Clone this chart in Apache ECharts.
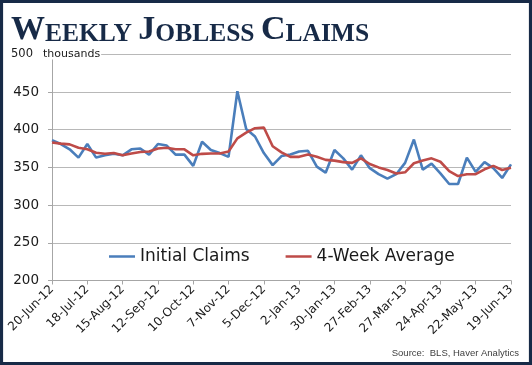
<!DOCTYPE html>
<html>
<head>
<meta charset="utf-8">
<script src="https://cdn.jsdelivr.net/npm/echarts@6/dist/echarts.min.js"></script>
<style>
  html, body { margin: 0; padding: 0; background: #fff; }
  #chart { width: 532px; height: 365px; }
</style>
</head>
<body>
<div id="chart"></div>
<script>
const categories = [
  '20-Jun-12','27-Jun-12','4-Jul-12','11-Jul-12','18-Jul-12','25-Jul-12','1-Aug-12','8-Aug-12',
  '15-Aug-12','22-Aug-12','29-Aug-12','5-Sep-12','12-Sep-12','19-Sep-12','26-Sep-12','3-Oct-12',
  '10-Oct-12','17-Oct-12','24-Oct-12','31-Oct-12','7-Nov-12','14-Nov-12','21-Nov-12','28-Nov-12',
  '5-Dec-12','12-Dec-12','19-Dec-12','26-Dec-12','2-Jan-13','9-Jan-13','16-Jan-13','23-Jan-13',
  '30-Jan-13','6-Feb-13','13-Feb-13','20-Feb-13','27-Feb-13','6-Mar-13','13-Mar-13','20-Mar-13',
  '27-Mar-13','3-Apr-13','10-Apr-13','17-Apr-13','24-Apr-13','1-May-13','8-May-13','15-May-13',
  '22-May-13','29-May-13','5-Jun-13','12-Jun-13','19-Jun-13'
];
const initialClaims = [
  386, 381, 374, 363, 381, 363, 366, 368, 366, 374, 375, 367, 381, 379, 367, 367,
  352, 384, 373, 369, 364, 451, 401, 391, 369, 353, 365, 367, 371, 372, 351, 343,
  373, 362, 347, 366, 349, 341, 335, 341, 356, 387, 347, 355, 342, 328, 328, 363,
  344, 357, 349, 336, 354
];
const fourWeekAverage = [
  383, 381.5, 380.5, 376, 374, 369.5, 368, 369, 366, 368.5, 370.5, 371, 375, 376, 374, 374,
  366, 368, 368.5, 368.5, 371, 388.5, 396, 402, 403, 378, 370, 364, 364, 367, 364, 360,
  359, 357, 356, 362, 354.5, 350, 346.5, 342, 343.5, 355.5, 359, 362, 357.5, 345, 338.5, 341,
  341, 347.5, 352, 346.5, 349.5
];
const seriesNames = ['Initial Claims', '4-Week Average'];
const yTicks = { min: 200, max: 500, step: 50 };

const navy = '#172a47';
const sans = 'DejaVu Sans';

const chart = echarts.init(document.getElementById('chart'));
chart.setOption({
  animation: false,
  backgroundColor: '#ffffff',
  title: {
    text: '{b|W}{s|EEKLY }{b|J}{s|OBLESS }{b|C}{s|LAIMS}',
    left: 11,
    top: 13.5,
    padding: 0,
    textStyle: {
      rich: {
        b: { fontFamily: 'Liberation Serif', fontWeight: 'bold', fontSize: 34, color: navy, verticalAlign: 'bottom' },
        s: { fontFamily: 'Liberation Serif', fontWeight: 'bold', fontSize: 25.5, color: navy, verticalAlign: 'bottom' }
      }
    }
  },
  grid: { left: 52, right: 21, top: 54.3, bottom: 84.5, containLabel: false },
  legend: {
    data: seriesNames,
    left: 109,
    top: 248,
    padding: 0,
    icon: 'rect',
    itemWidth: 26,
    itemHeight: 2.5,
    itemGap: 36,
    textStyle: { fontFamily: sans, fontSize: 17, color: '#1a1a1a' }
  },
  xAxis: {
    type: 'category',
    data: categories,
    boundaryGap: false,
    axisLine: { lineStyle: { color: '#a6a6a6', width: 1 } },
    axisTick: { show: true, interval: 3, length: 4, lineStyle: { color: '#a6a6a6' } },
    axisLabel: {
      interval: 3,
      rotate: 45,
      margin: 7,
      fontFamily: sans,
      fontSize: 12,
      color: '#1a1a1a'
    },
    splitLine: { show: false }
  },
  yAxis: {
    type: 'value',
    min: yTicks.min,
    max: yTicks.max,
    interval: yTicks.step,
    axisLine: { show: true, lineStyle: { color: '#a6a6a6', width: 1 } },
    axisTick: { show: true, length: 4, lineStyle: { color: '#a6a6a6' } },
    axisLabel: {
      margin: 13,
      fontFamily: sans,
      fontSize: 13.5,
      color: '#1a1a1a',
      formatter: function (v) { return v === yTicks.max ? '{t|' + v + '}' : String(v); },
      rich: { t: { fontFamily: sans, fontSize: 11.5, color: '#1a1a1a', padding: [0, 6, 0, 0] } }
    },
    splitLine: { lineStyle: { color: '#b8b8b8', width: 1 } }
  },
  series: [
    {
      name: seriesNames[0],
      type: 'line',
      data: initialClaims,
      symbol: 'none',
      lineStyle: { color: '#4a7ebb', width: 2.6 },
      itemStyle: { color: '#4a7ebb' },
      z: 2
    },
    {
      name: seriesNames[1],
      type: 'line',
      data: fourWeekAverage,
      symbol: 'none',
      lineStyle: { color: '#be4b48', width: 2.6 },
      itemStyle: { color: '#be4b48' },
      z: 3
    }
  ],
  graphic: [
    {
      type: 'text',
      left: 43,
      top: 48.5,
      z: 10,
      style: {
        text: 'thousands',
        fontFamily: sans,
        fontSize: 11,
        fill: '#1a1a1a',
        backgroundColor: '#ffffff',
        padding: [0, 1, 0, 0]
      }
    },
    {
      type: 'text',
      right: 13,
      top: 348,
      z: 10,
      style: {
        text: 'Source:  BLS, Haver Analytics',
        fontFamily: 'Liberation Sans',
        fontSize: 9.5,
        fill: '#404040'
      }
    },
    {
      type: 'rect',
      z: 20,
      silent: true,
      shape: { x: 1.5, y: 1.5, width: 529, height: 362 },
      style: { fill: 'none', stroke: navy, lineWidth: 3.2 }
    }
  ]
});
</script>
</body>
</html>
